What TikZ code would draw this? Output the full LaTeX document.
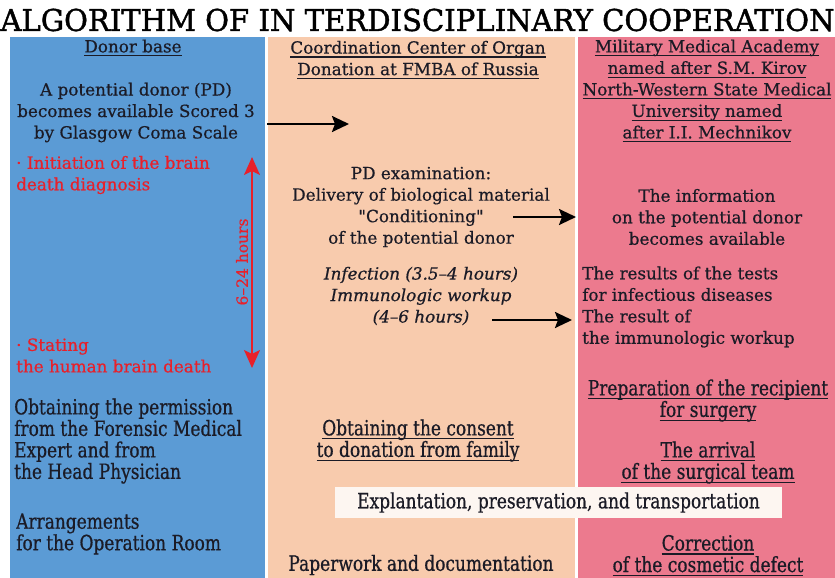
\documentclass[tikz,border=0pt]{standalone}
\usepackage{fontspec}
\setmainfont{DejaVu Serif}[Ligatures=TeXOff,FakeBold=0.6]
\newfontfamily\condf{DejaVu Serif}[FakeStretch=0.81,Ligatures=TeXOff,FakeBold=0.6]
\newfontfamily\titlef{DejaVu Serif}[FakeStretch=0.97,FakeBold=1.4]
\usetikzlibrary{arrows.meta}
\definecolor{cblue}{HTML}{5B9BD5}
\definecolor{cpeach}{HTML}{F8CBAD}
\definecolor{cpink}{HTML}{EC7A8E}
\definecolor{ink}{HTML}{1B1B26}
\definecolor{redc}{HTML}{E8202A}
\definecolor{boxc}{HTML}{FDF6F1}
\newcommand\myul[1]{\leavevmode\setbox0\hbox{#1}\hbox{\rlap{\copy0}\raisebox{-4pt}{\rule{\wd0}{1.2pt}}}}
\tikzset{
  txt/.style={font=\fontsize{16.8}{21.5}\selectfont, text=ink, inner sep=0pt, align=center},
  ctxt/.style={font=\condf\fontsize{21}{21.5}\selectfont, text=ink, inner sep=0pt, align=center},
  redt/.style={txt, text=redc, align=left},
  arr/.style={draw=black, line width=2.4pt, -{Stealth[length=17pt,width=16pt,inset=3pt]}},
  redarr/.style={draw=redc, line width=1.8pt, {Stealth[length=18pt,width=16pt,inset=4pt]}-{Stealth[length=18pt,width=16pt,inset=4pt]}},
}
\begin{document}
\begin{tikzpicture}[x=1pt,y=-1pt]
\useasboundingbox (0,0) rectangle (835,578);
\fill[white] (0,0) rectangle (835,578);
% columns
\fill[cblue] (10,37) rectangle (265,578);
\fill[cpeach] (268,37) rectangle (575,578);
\fill[cpink] (578,37) rectangle (835,578);
% title
\node[font=\titlef\fontsize{30}{30}\selectfont, text=black, inner sep=0pt] (title) at (417.5,20) {ALGORITHM OF IN TERDISCIPLINARY COOPERATION};
% blue column
\node[txt] (donor) at (133,48) {\myul{Donor base}};
\node[txt] (pd) at (136,112.5) {A potential donor (PD)\\becomes available Scored 3\\by Glasgow Coma Scale};
\node[redt, anchor=west] (init) at (16,175) {· Initiation of the brain\\death diagnosis};
\node[redt, anchor=west] (stat) at (16,355.5) {· Stating\\the human brain death};
\node[ctxt, align=left, anchor=west] (perm) at (14,441) {Obtaining the permission\\from the Forensic Medical\\Expert and from\\the Head Physician};
\node[ctxt, align=left, anchor=west] (room) at (16,534) {Arrangements\\for the Operation Room};
\coordinate (rt) at (252,157);
\coordinate (rb) at (252,368);
\draw[redarr] (rt) -- (rb);
\node[font=\fontsize{15.5}{16}\selectfont, text=redc, rotate=90, inner sep=0pt] (hrs) at (242,262) {6–24 hours};
% peach column
\node[txt] (cc) at (418,60) {\myul{Coordination Center of Organ}\\\myul{Donation at FMBA of Russia}};
\coordinate (a1s) at (267,124);
\coordinate (a1e) at (349,124);
\draw[arr] (a1s) -- (a1e);
\node[txt] (exam) at (421,207) {PD examination:\\Delivery of biological material\\"Conditioning"\\of the potential donor};
\coordinate (a2s) at (513,217);
\coordinate (a2e) at (576,217);
\draw[arr] (a2s) -- (a2e);
\node[txt, font=\fontsize{16.8}{21.5}\selectfont\itshape] (inf) at (421,296) {Infection (3.5–4 hours)\\Immunologic workup\\(4–6 hours)};
\coordinate (a3s) at (492,320);
\coordinate (a3e) at (572,320);
\draw[arr] (a3s) -- (a3e);
\node[ctxt] (cons) at (418,440.5) {\myul{Obtaining the consent}\\\myul{to donation from family}};
\node[ctxt, fill=boxc, minimum width=447pt, minimum height=31pt] (expl) at (558.5,502.5) {Explantation, preservation, and transportation};
\node[ctxt] (paper) at (421,565) {Paperwork and documentation};
% pink column
\node[txt] (mma) at (707,91) {\myul{Military Medical Academy}\\\myul{named after S.M. Kirov}\\\myul{North-Western State Medical}\\\myul{University named}\\\myul{after I.I. Mechnikov}};
\node[txt] (info) at (707,217) {The information\\on the potential donor\\becomes available};
\node[txt, align=left, anchor=west] (res) at (582,307) {The results of the tests\\for infectious diseases\\The result of\\the immunologic workup};
\node[ctxt] (prep) at (708,400.5) {\myul{Preparation of the recipient}\\\myul{for surgery}};
\node[ctxt] (arrv) at (708,462.5) {\myul{The arrival}\\\myul{of the surgical team}};
\node[ctxt] (corr) at (708,555.5) {\myul{Correction}\\\myul{of the cosmetic defect}};
\end{tikzpicture}
\end{document}
